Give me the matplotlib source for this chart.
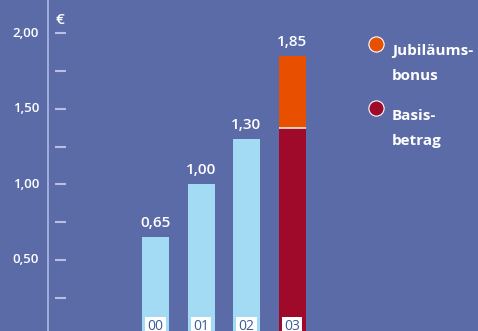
import matplotlib.pyplot as plt
import matplotlib.transforms as mtransforms

years = ["00", "01", "02", "03"]
basis = [0.65, 1.00, 1.30, 1.375]
bonus = [0.0, 0.0, 0.0, 0.475]
totals = ["0,65", "1,00", "1,30", "1,85"]
yticks = [0.25, 0.50, 0.75, 1.00, 1.25, 1.50, 1.75, 2.00]
ylabels = {0.50: "0,50", 1.00: "1,00", 1.50: "1,50", 2.00: "2,00"}
legend_items = [(("Jubiläums-", "bonus"), "#e85000"), (("Basis-", "betrag"), "#a00a2a")]

bg = "#5b6ba8"
light = "#a3dbf5"
dark_red = "#a00a2a"
orange = "#e85000"

plt.rcParams['font.family'] = ['Open Sans', 'DejaVu Sans']

W, H = 478, 331
fig = plt.figure(figsize=(W / 100, H / 100), dpi=100, facecolor=bg)
ax = fig.add_axes([0, 0, 1, 1], facecolor=bg)

# pixel mapping: value 0 sits 335.5 px below the top, 0.25 per 37.8 px
px_per_unit = 151.2
zero_px = 335.5
ax.set_ylim((zero_px - H) / px_per_unit, zero_px / px_per_unit)
step = 45.5
first = 155.5
ax.set_xlim(-first / step, (W - first) / step)
for s in ax.spines.values():
    s.set_visible(False)
ax.set_xticks([])
ax.set_yticks([])

def px_x(p):
    return (p - first) / step

def px_y(p):
    return (zero_px - p) / px_per_unit

# y axis line and tick dashes
ax.axvline(px_x(47.5), color="#a9b3dd", lw=1.3)
ax.hlines(yticks, px_x(55), px_x(66), color="#b8bfe0", lw=1.5)
for v, lab in ylabels.items():
    ax.text(px_x(39), v, lab, ha="right", va="center", color="white",
            fontsize=9.5, fontweight="semibold")
ax.text(px_x(55), px_y(20), "€", ha="left", va="center",
        color="white", fontsize=11, fontweight="semibold")

x = list(range(len(years)))
width = 27 / step
colors = [light, light, light, dark_red]
ax.bar(x, basis, width=width, color=colors, zorder=2)
ax.bar(x, bonus, width=width, bottom=basis, color=orange, zorder=2,
       edgecolor="none")
# thin white separator on the stacked bar
ax.hlines(basis[3], x[3] - width / 2, x[3] + width / 2, color="#f2e6e0", lw=1.2, zorder=3)

for xi, tot, b, o in zip(x, totals, basis, bonus):
    ax.text(xi, b + o + 10 / px_per_unit, tot, ha="center", va="baseline", color="white",
            fontsize=11, fontweight="semibold")

trans = mtransforms.blended_transform_factory(ax.transData, ax.transAxes)
for xi, yr in zip(x, years):
    ax.text(xi, -0.008, yr, transform=trans, ha="center", va="bottom",
            color="#3d5a99", fontsize=10,
            bbox=dict(boxstyle="square,pad=0.15", fc="white", ec="none"))

# legend
for i, ((l1, l2), col) in enumerate(legend_items):
    off = i * 64.5
    ax.scatter(px_x(375.5), px_y(43.5 + off), s=120, color=col,
               edgecolor="white", linewidth=0.8, zorder=4, clip_on=False)
    ax.text(px_x(392), px_y(55 + off), l1, ha="left", va="baseline",
            color="white", fontsize=11, fontweight="bold")
    ax.text(px_x(392), px_y(80.5 + off), l2, ha="left", va="baseline",
            color="white", fontsize=11, fontweight="bold")

fig.savefig("out.png", dpi=100, facecolor=bg)
